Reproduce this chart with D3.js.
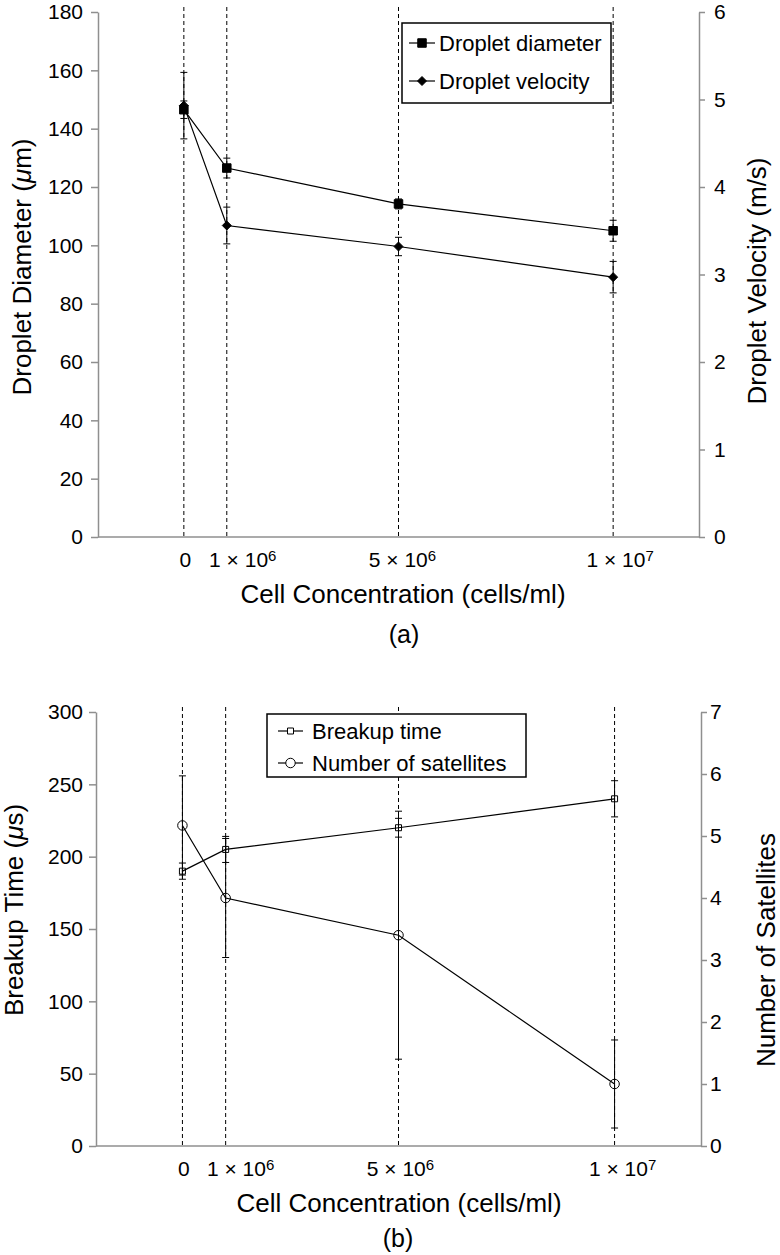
<!DOCTYPE html>
<html><head><meta charset="utf-8">
<script src="https://cdn.jsdelivr.net/npm/d3@7"></script>
<style>
body{margin:0;background:#fff}
svg{display:block}
text{font-family:"Liberation Sans",Arial,Helvetica,sans-serif;fill:#000}
</style>
</head><body>
<svg id="c" width="780" height="1255"></svg>
<script>
// ---------- data ----------
const concentrations = [0, 1e6, 5e6, 1e7];
const xTickBase = ["0", "1 \u00d7 10", "5 \u00d7 10", "1 \u00d7 10"];
const xTickSup = ["", "6", "6", "7"];

const diameter = [146.5, 126.5, 114.2, 105.0];
const diameterErr = [3.0, 3.4, 1.7, 3.6];
const velocity = [4.93, 3.56, 3.32, 2.97];
const velocityErr = [0.38, 0.21, 0.105, 0.18];

const breakupTime = [190, 205, 220, 240];
const breakupErr = [5.6, 9, 6.5, 12.5];
const satellites = [5.17, 4.0, 3.4, 1.0];
const satellitesErr = [0.8, 0.96, 2.0, 0.71];

const diameterTicks = [0, 20, 40, 60, 80, 100, 120, 140, 160, 180];
const velocityTicks = [0, 1, 2, 3, 4, 5, 6];
const breakupTicks = [0, 50, 100, 150, 200, 250, 300];
const satelliteTicks = [0, 1, 2, 3, 4, 5, 6, 7];

// ---------- drawing ----------
const FONT = '"Liberation Sans", Arial, Helvetica, sans-serif';
const GRAY = "#8f8f8f";
const svg = d3.select("#c");

function markerPath(type, size) {
  if (type === "filledSquare" || type === "openSquare") {
    const h = size / 2;
    return `M${-h},${-h}H${h}V${h}H${-h}Z`;
  }
  if (type === "diamond") {
    const r = size / 2;
    return `M0,${-r}L${r},0L0,${r}L${-r},0Z`;
  }
  return d3.symbol(d3.symbolCircle, Math.PI * (size / 2) * (size / 2))();
}

function drawPanel(p) {
  const g = svg.append("g");
  const x = d3.scaleLinear().domain([-2e6, 12e6]).range([p.left, p.right]);
  const yL = d3.scaleLinear().domain([0, p.leftTicks[p.leftTicks.length - 1]]).range([p.bottom, p.top]);
  const yR = d3.scaleLinear().domain([0, p.rightTicks[p.rightTicks.length - 1]]).range([p.bottom, p.top]);

  // dashed verticals
  g.selectAll("line.vd").data(concentrations).join("line")
    .attr("class", "vd")
    .attr("x1", d => x(d)).attr("x2", d => x(d))
    .attr("y1", p.top - 5).attr("y2", p.bottom)
    .attr("stroke", "#000").attr("stroke-width", 1).attr("stroke-dasharray", "4,3");

  // axes
  const gL = g.append("g").attr("transform", `translate(${p.left},0)`)
    .call(d3.axisLeft(yL).tickValues(p.leftTicks).tickFormat(d3.format("d"))
      .tickSize(p.tickLenL).tickSizeOuter(0).tickPadding(p.padL));
  const gR = g.append("g").attr("transform", `translate(${p.right},0)`)
    .call(d3.axisRight(yR).tickValues(p.rightTicks).tickFormat(d3.format("d"))
      .tickSize(6).tickSizeOuter(0).tickPadding(p.padR));
  [gL, gR].forEach(a => {
    a.attr("font-family", FONT).attr("font-size", 21);
    a.select(".domain").attr("stroke", GRAY).attr("stroke-width", 1.5);
    a.selectAll(".tick line").attr("stroke", GRAY).attr("stroke-width", 1.5);
    a.selectAll(".tick text").attr("fill", "#000");
  });
  g.append("line")
    .attr("x1", p.left).attr("x2", p.right).attr("y1", p.bottom).attr("y2", p.bottom)
    .attr("stroke", GRAY).attr("stroke-width", 1.5);

  // x tick labels
  const xl = g.selectAll("text.xl").data(concentrations).join("text")
    .attr("class", "xl")
    .attr("x", (d, i) => x(d) + p.xLabelDx[i])
    .attr("y", p.bottom + 30)
    .attr("text-anchor", "middle")
    .attr("font-size", 21);
  xl.append("tspan").text((d, i) => xTickBase[i]);
  xl.append("tspan").attr("font-size", 15).attr("dy", -6).text((d, i) => xTickSup[i]);

  // series
  p.series.forEach(s => {
    const y = s.axis === "left" ? yL : yR;
    const rows = d3.zip(concentrations, s.values, s.errs);
    const eb = g.append("g").attr("stroke", "#000").attr("stroke-width", 1);
    eb.selectAll("line.v").data(rows).join("line")
      .attr("x1", d => x(d[0])).attr("x2", d => x(d[0]))
      .attr("y1", d => y(d[1] + d[2])).attr("y2", d => y(d[1] - d[2]));
    eb.selectAll("line.t").data(rows).join("line")
      .attr("x1", d => x(d[0]) - 3.5).attr("x2", d => x(d[0]) + 3.5)
      .attr("y1", d => y(d[1] + d[2])).attr("y2", d => y(d[1] + d[2]));
    eb.selectAll("line.b").data(rows).join("line")
      .attr("x1", d => x(d[0]) - 3.5).attr("x2", d => x(d[0]) + 3.5)
      .attr("y1", d => y(d[1] - d[2])).attr("y2", d => y(d[1] - d[2]));

    g.append("path").datum(rows)
      .attr("fill", "none").attr("stroke", "#000").attr("stroke-width", 1.2)
      .attr("d", d3.line().x(d => x(d[0])).y(d => y(d[1])));

    g.selectAll(null).data(rows).join("path")
      .attr("transform", d => `translate(${x(d[0])},${y(d[1])})`)
      .attr("d", markerPath(s.marker, s.size))
      .attr("fill", s.filled ? "#000" : "none")
      .attr("stroke", "#000").attr("stroke-width", 1);
  });

  // legend
  const L = p.legend;
  g.append("rect").attr("x", L.x).attr("y", L.y).attr("width", L.w).attr("height", L.h)
    .attr("fill", "#fff").attr("stroke", "#000").attr("stroke-width", 1.5);
  p.series.forEach((s, i) => {
    const cy = L.rowY[i];
    g.append("line").attr("x1", L.lineX0).attr("x2", L.lineX1).attr("y1", cy).attr("y2", cy)
      .attr("stroke", "#000").attr("stroke-width", 1.2);
    g.append("path").attr("transform", `translate(${(L.lineX0 + L.lineX1) / 2},${cy})`)
      .attr("d", markerPath(s.marker, s.size))
      .attr("fill", s.filled ? "#000" : "#fff").attr("stroke", "#000").attr("stroke-width", 1);
    g.append("text").attr("x", L.textX).attr("y", cy + 8).attr("font-size", 22).text(s.name);
  });

  // titles
  const tl = g.append("text").attr("transform", `translate(${p.titleL.x},${p.titleL.y}) rotate(-90)`)
    .attr("text-anchor", "middle").attr("font-size", 26);
  p.titleL.parts.forEach(pt => tl.append("tspan").attr("font-style", pt.italic ? "italic" : "normal").text(pt.t));
  g.append("text").attr("transform", `translate(${p.titleR.x},${p.titleR.y}) rotate(-90)`)
    .attr("text-anchor", "middle").attr("font-size", 26).text(p.titleR.text);
  g.append("text").attr("x", p.xTitleX).attr("y", p.bottom + 66).attr("text-anchor", "middle")
    .attr("font-size", 26).text("Cell Concentration (cells/ml)");
  g.append("text").attr("x", p.subX).attr("y", p.subY).attr("text-anchor", "middle")
    .attr("font-size", 25).text(p.sub);
}

drawPanel({
  left: 98, right: 699, top: 12, bottom: 537,
  leftTicks: diameterTicks, rightTicks: velocityTicks,
  tickLenL: 7, padL: 8, padR: 9,
  xLabelDx: [1.5, 16, 4, 7],
  series: [
    { name: "Droplet diameter", values: diameter, errs: diameterErr, axis: "left", marker: "filledSquare", size: 8.5, filled: true },
    { name: "Droplet velocity", values: velocity, errs: velocityErr, axis: "right", marker: "diamond", size: 9, filled: true }
  ],
  legend: { x: 402, y: 23, w: 209, h: 80, rowY: [43, 81], lineX0: 409, lineX1: 435, textX: 439 },
  titleL: { x: 31, y: 267, parts: [{ t: "Droplet Diameter (" }, { t: "\u03bc", italic: true }, { t: "m)" }] },
  titleR: { x: 766, y: 281, text: "Droplet Velocity (m/s)" },
  xTitleX: 403, subX: 404, subY: 643, sub: "(a)"
});

drawPanel({
  left: 96, right: 701, top: 712, bottom: 1146,
  leftTicks: breakupTicks, rightTicks: satelliteTicks,
  tickLenL: 7, padL: 6, padR: 3,
  xLabelDx: [1.5, 15, 2, 8],
  series: [
    { name: "Breakup time", values: breakupTime, errs: breakupErr, axis: "left", marker: "openSquare", size: 6, filled: false },
    { name: "Number of satellites", values: satellites, errs: satellitesErr, axis: "right", marker: "circle", size: 9.5, filled: false }
  ],
  legend: { x: 267, y: 714, w: 259, h: 63, rowY: [731, 763], lineX0: 278, lineX1: 303, textX: 312 },
  titleL: { x: 23, y: 910, parts: [{ t: "Breakup Time (" }, { t: "\u03bc", italic: true }, { t: "s)" }] },
  titleR: { x: 775, y: 950, text: "Number of Satellites" },
  xTitleX: 399, subX: 398, subY: 1247, sub: "(b)"
});
</script>
</body></html>
